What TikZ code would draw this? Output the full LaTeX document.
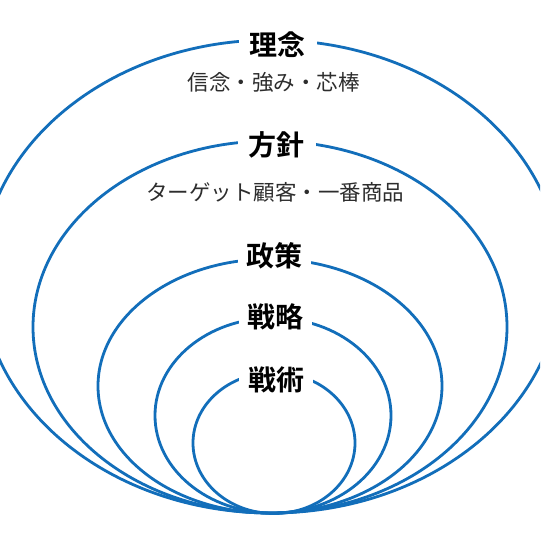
\documentclass[tikz,border=0pt]{standalone}
\usepackage{fontspec}
\newfontfamily\jp{Noto Sans CJK JP}
\newfontfamily\jpb{Noto Sans CJK JP Bold}
\definecolor{ringblue}{RGB}{18,110,186}
\definecolor{subgray}{RGB}{45,45,45}
\begin{document}
\begin{tikzpicture}[x=1pt,y=-1pt,
  ring/.style={draw=ringblue,line width=2.8pt},
  title/.style={fill=white,inner xsep=11pt,inner ysep=1pt,font=\jpb\fontsize{28}{30}\selectfont,text=black},
  sub/.style={inner sep=0pt,font=\jp\fontsize{21.5}{24}\selectfont,text=subgray}]
\useasboundingbox (0,0) rectangle (540,540);
\clip (0,0) rectangle (540,540);
\fill[white] (0,0) rectangle (540,540);
\draw[ring] (271,276.5) ellipse [x radius=290,y radius=236.5];
\draw[ring] (270,327) ellipse [x radius=237,y radius=186];
\draw[ring] (270,386) ellipse [x radius=172,y radius=127];
\draw[ring] (273,415.5) ellipse [x radius=118,y radius=97.5];
\draw[ring] (274,443) ellipse [x radius=81,y radius=70.5];
\node[title] (rinen) at (277.5,45) {理念};
\node[sub] (rinensub) at (273.5,82) {信念・強み・芯棒};
\node[title] (hoshin) at (276.5,145) {方針};
\node[sub] (hoshinsub) at (275,192.5) {ターゲット顧客・一番商品};
\node[title,inner xsep=8.5pt] (seisaku) at (274.5,256) {政策};
\node[title,inner xsep=8.5pt] (senryaku) at (275,317) {戦略};
\node[title,inner xsep=9pt] (senjutsu) at (276,379.5) {戦術};
\end{tikzpicture}
\end{document}
